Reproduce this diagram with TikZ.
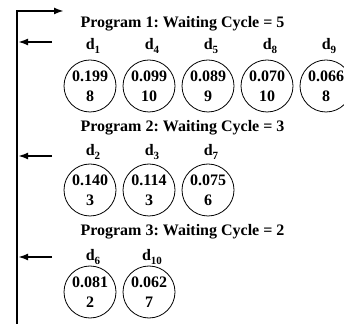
\documentclass[tikz,border=0pt]{standalone}
\usepackage{fontspec}
\setmainfont{Liberation Serif}
\usetikzlibrary{arrows.meta}
\frenchspacing
\newcommand{\dlab}[1]{d\raisebox{-4pt}{\fontsize{11}{11}\selectfont #1}}

\begin{document}
\begin{tikzpicture}[x=1pt,y=1pt,
  every node/.style={font=\fontsize{16}{20}\selectfont\bfseries},
  job/.style={draw,circle,line width=.8pt,minimum size=52pt,inner sep=0pt,align=center},
  feed/.style={line width=2pt,-{Latex[length=10pt,width=7pt]}}]
\useasboundingbox (0,0) rectangle (344,323);

% rail on the left, back up to the top
\coordinate (Bot) at (17,-2);
\coordinate (Top) at (17,312);
\coordinate (Out) at (64,312);
\draw[feed,line width=2.4pt,line join=miter] (Bot) -- (Top) -- (Out);

% program headers
\node[anchor=west] (P1) at (77,299) {Program 1: Waiting Cycle = 5};
\node[anchor=west] (P2) at (77,195) {Program 2: Waiting Cycle = 3};
\node[anchor=west] (P3) at (77,91) {Program 3: Waiting Cycle = 2};

% jobs of each program
\foreach \i/\d/\v/\c in {0/1/0.199/8,1/4/0.099/10,2/5/0.089/9,3/8/0.070/10,4/9/0.066/8}{
  \node[job] (c\d) at (90+59*\i,237) {\v\\\c};
  \node (d\d) at (93+59*\i,277) {\dlab{\d}};
}
\foreach \i/\d/\v/\c in {0/2/0.140/3,1/3/0.114/3,2/7/0.075/6}{
  \node[job] (c\d) at (90+59*\i,133) {\v\\\c};
  \node (d\d) at (93+59*\i,171) {\dlab{\d}};
}
\foreach \i/\d/\v/\c in {0/6/0.081/2,1/10/0.062/7}{
  \node[job] (c\d) at (90+59*\i,31) {\v\\\c};
  \node (d\d) at (93+59*\i,66) {\dlab{\d}};
}

% arrivals onto the rail
\foreach \n/\y in {1/281,2/167,3/66}{
  \coordinate (In\n) at (52,\y);
  \coordinate (J\n) at (18,\y);
  \draw[feed] (In\n) -- (J\n);
}
\end{tikzpicture}
\end{document}
